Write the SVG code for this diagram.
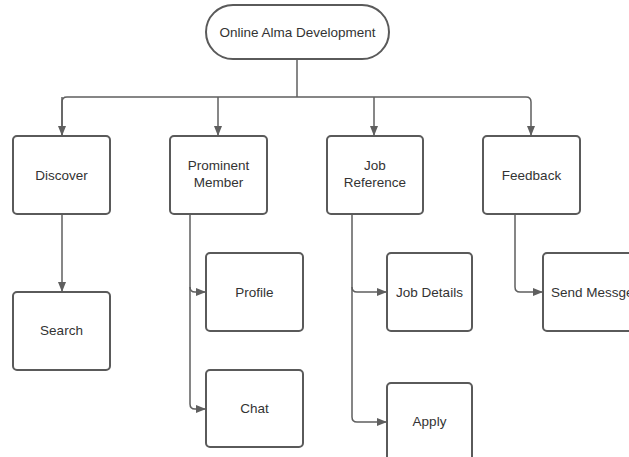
<svg xmlns="http://www.w3.org/2000/svg" width="629" height="457" viewBox="0 0 629 457">
<style>
.box{fill:#fff;stroke:#5a5a5a;stroke-width:2}
.t{font-family:"Liberation Sans",Arial,sans-serif;font-size:13.5px;fill:#333;text-anchor:middle;dominant-baseline:central}
.c{fill:none;stroke:#5f5f5f;stroke-width:1.5}
</style>
<defs>
<marker id="a" markerWidth="10" markerHeight="8" refX="10" refY="4" orient="auto" markerUnits="userSpaceOnUse">
<path d="M0,0 L10,4 L0,8 Z" fill="#5f5f5f"/>
</marker>
</defs>
<rect width="629" height="457" fill="#fff"/>
<g id="connectors">
<path class="c" d="M297,59 V97"/>
<path class="c" d="M62,136 V102 Q62,97 67,97 H526 Q531,97 531,102 V136" marker-end="url(#a)"/>
<path class="c" d="M62,97 V136" marker-end="url(#a)"/>
<path class="c" d="M218,97 V136" marker-end="url(#a)"/>
<path class="c" d="M374,97 V136" marker-end="url(#a)"/>
<path class="c" d="M62,214 V292" marker-end="url(#a)"/>
<path class="c" d="M190,214 V287 Q190,292 195,292 H206" marker-end="url(#a)"/>
<path class="c" d="M190,287 V404 Q190,409 195,409 H206" marker-end="url(#a)"/>
<path class="c" d="M352,214 V287 Q352,292 357,292 H387" marker-end="url(#a)"/>
<path class="c" d="M352,287 V417 Q352,422 357,422 H387" marker-end="url(#a)"/>
<path class="c" d="M515,214 V287 Q515,292 520,292 H543" marker-end="url(#a)"/>
</g>
<g id="root"><rect class="box" x="206" y="5" width="183" height="54" rx="27"/><text class="t" x="297.5" y="32">Online Alma Development</text></g>
<g id="discover"><rect class="box" x="13" y="136" width="97" height="78" rx="4"/><text class="t" x="61.5" y="175">Discover</text></g>
<g id="prominent"><rect class="box" x="170" y="136" width="97" height="78" rx="4"/><text class="t" x="218.5" y="165">Prominent</text><text class="t" x="218.5" y="182">Member</text></g>
<g id="jobref"><rect class="box" x="327" y="136" width="96" height="78" rx="4"/><text class="t" x="375" y="165">Job</text><text class="t" x="375" y="182">Reference</text></g>
<g id="feedback"><rect class="box" x="483" y="136" width="97" height="78" rx="4"/><text class="t" x="531.5" y="175">Feedback</text></g>
<g id="search"><rect class="box" x="13" y="292" width="97" height="78" rx="4"/><text class="t" x="61.5" y="330">Search</text></g>
<g id="profile"><rect class="box" x="206" y="253" width="97" height="78" rx="4"/><text class="t" x="254.5" y="292">Profile</text></g>
<g id="chat"><rect class="box" x="206" y="370" width="97" height="77" rx="4"/><text class="t" x="254.5" y="408">Chat</text></g>
<g id="jobdetails"><rect class="box" x="387" y="253" width="85" height="78" rx="4"/><text class="t" x="429.5" y="292">Job Details</text></g>
<g id="apply"><rect class="box" x="387" y="383" width="85" height="90" rx="4"/><text class="t" x="429.5" y="421">Apply</text></g>
<g id="sendmsg"><rect class="box" x="543" y="253" width="100" height="78" rx="4"/><text class="t" x="551" y="292" style="text-anchor:start">Send Messge</text></g>
</svg>
